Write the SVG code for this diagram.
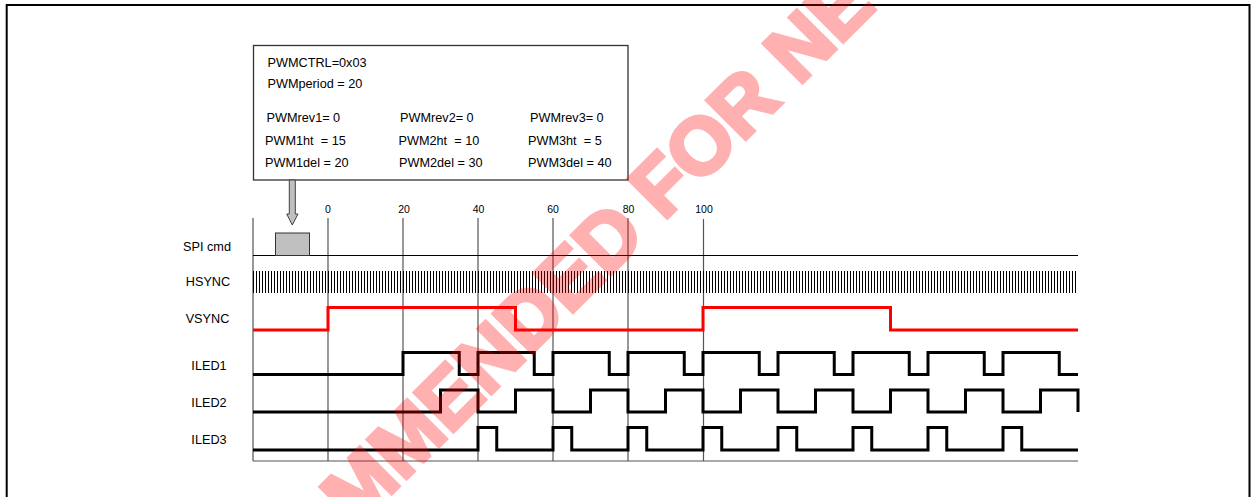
<svg xmlns="http://www.w3.org/2000/svg" width="1252" height="497" viewBox="0 0 1252 497">
<style>
text{font-family:"Liberation Sans",Arial,sans-serif;fill:#000}
.lbl{font-size:12.7px;text-anchor:middle}
.box{font-size:12.7px;white-space:pre}
.ax{font-size:10.5px;text-anchor:middle}
.grid{stroke:#555;stroke-width:1.2;fill:none}
.wave{stroke:#000;stroke-width:3;fill:none;stroke-linejoin:miter}
.vs{stroke:#ff0000;stroke-width:3;fill:none;stroke-linejoin:miter}
.wm{font-family:"Liberation Sans",Arial,sans-serif;font-weight:bold;font-size:80px;fill:#ff0000;stroke:#ff0000;stroke-width:4;stroke-linejoin:miter}
</style>
<rect x="0" y="0" width="1252" height="497" fill="#fff"/>
<path d="M6.7 510 V5 H1249.5 V510" fill="none" stroke="#000" stroke-width="2"/>

<g id="settings-box">
<rect x="253.5" y="45.5" width="374.5" height="134.5" fill="#fff" stroke="#333" stroke-width="1.3"/>
<text class="box" x="267.5" y="66.7">PWMCTRL=0x03</text>
<text class="box" x="267.5" y="88.3">PWMperiod = 20</text>
<text class="box" x="266.5" y="122.3">PWMrev1= 0</text>
<text class="box" x="265" y="145">PWM1ht  = 15</text>
<text class="box" x="265" y="167.3">PWM1del = 20</text>
<text class="box" x="400" y="122.3">PWMrev2= 0</text>
<text class="box" x="398.5" y="145">PWM2ht  = 10</text>
<text class="box" x="399" y="167.3">PWM2del = 30</text>
<text class="box" x="530" y="122.3">PWMrev3= 0</text>
<text class="box" x="528" y="145">PWM3ht  = 5</text>
<text class="box" x="528" y="167.3">PWM3del = 40</text>
</g>

<g id="connectors">
<path d="M289.3 180 V214 H286.7 L292.3 225 L298 214 H295.3 V180 Z" fill="#c0c0c0" stroke="#404040" stroke-width="1"/>
</g>

<g id="grid">
<path class="grid" d="M253 218 V461 M328 218 V461 M403 218 V461 M478 218 V461 M553 218 V461 M628 218 V461 M703.5 219 V461"/>
<line x1="253" y1="255.5" x2="1078" y2="255.5" stroke="#000" stroke-width="1"/>
<line x1="253" y1="461" x2="1078" y2="461" stroke="#555" stroke-width="1.2"/>
<text class="ax" x="328" y="213">0</text>
<text class="ax" x="404" y="213">20</text>
<text class="ax" x="478.5" y="213">40</text>
<text class="ax" x="553" y="213">60</text>
<text class="ax" x="628.5" y="213">80</text>
<text class="ax" x="704" y="213">100</text>
</g>

<g id="spi-cmd">
<text class="lbl" x="207" y="250.7">SPI cmd</text>
<rect x="275.5" y="233" width="34" height="22.5" fill="#c0c0c0" stroke="#333" stroke-width="1"/>
</g>

<g id="hsync">
<text class="lbl" x="208" y="286">HSYNC</text>
<line x1="253" y1="282" x2="1078" y2="282" stroke="#000" stroke-width="22" stroke-dasharray="1 2"/>
</g>

<g id="vsync">
<text class="lbl" x="207.5" y="323.3">VSYNC</text>
<path class="vs" d="M253 330 H328 V307.5 H515.5 V330 H703 V307.5 H890.5 V330 H1078"/>
</g>

<g id="iled1">
<text class="lbl" x="209" y="370">ILED1</text>
<path class="wave" d="M253 374.5 H403 V352.5 H459.25 V374.5 H478 V352.5 H534.25 V374.5 H553 V352.5 H609.25 V374.5 H628 V352.5 H684.25 V374.5 H703 V352.5 H759.25 V374.5 H778 V352.5 H834.25 V374.5 H853 V352.5 H909.25 V374.5 H928 V352.5 H984.25 V374.5 H1003 V352.5 H1059.25 V374.5 H1078"/>
</g>

<g id="iled2">
<text class="lbl" x="209" y="406.7">ILED2</text>
<path class="wave" d="M253 412 H440.5 V390 H478 V412 H515.5 V390 H553 V412 H590.5 V390 H628 V412 H665.5 V390 H703 V412 H740.5 V390 H778 V412 H815.5 V390 H853 V412 H890.5 V390 H928 V412 H965.5 V390 H1003 V412 H1040.5 V390 H1078 V412"/>
</g>

<g id="iled3">
<text class="lbl" x="209" y="444.3">ILED3</text>
<path class="wave" d="M253 450 H478 V427.5 H496.75 V450 H553 V427.5 H571.75 V450 H628 V427.5 H646.75 V450 H703 V427.5 H721.75 V450 H778 V427.5 H796.75 V450 H853 V427.5 H871.75 V450 H928 V427.5 H946.75 V450 H1003 V427.5 H1021.75 V450 H1078"/>
</g>

<g id="watermark" opacity="0.3">
<text class="wm" x="57" y="828" transform="rotate(-45 57 828)">NOT RECOMMENDED FOR NEW DESIGNS</text>
</g>
</svg>
